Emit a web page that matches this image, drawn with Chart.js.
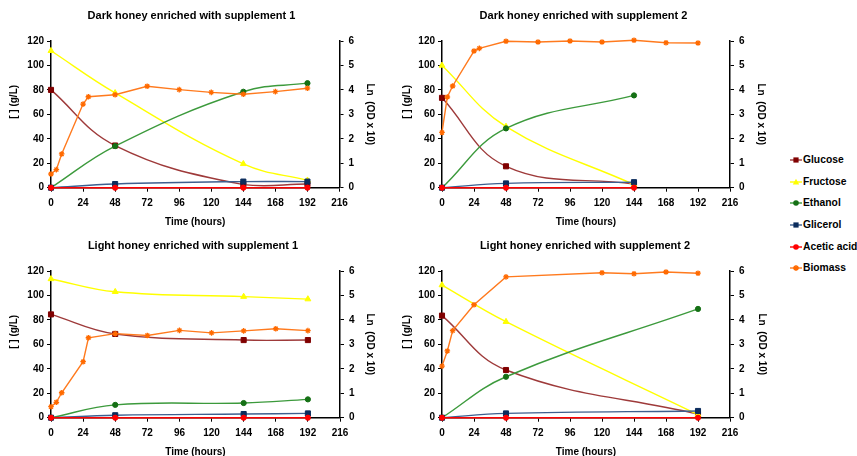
<!DOCTYPE html>
<html><head><meta charset="utf-8">
<script src="https://cdn.jsdelivr.net/npm/chart.js@4.4.1/dist/chart.umd.min.js"></script>
<style>
html,body{margin:0;padding:0;background:#fff;width:857px;height:456px;overflow:hidden;position:relative;font-family:"Liberation Sans",Arial,sans-serif;}
canvas{position:absolute;}
#legend{position:absolute;left:0;top:0;}
.item{position:absolute;left:788px;height:14px;white-space:nowrap;font-weight:bold;font-size:10.3px;line-height:14px;color:#000;}
.item svg{position:absolute;left:0;top:0;}
.item span{position:absolute;left:15px;top:0;}
</style></head><body>
<canvas id="c1" width="383" height="230" style="left:0px;top:0px"></canvas>
<canvas id="c2" width="367" height="230" style="left:400px;top:0px"></canvas>
<canvas id="c3" width="386" height="230" style="left:0px;top:230px"></canvas>
<canvas id="c4" width="370" height="230" style="left:400px;top:230px"></canvas>
<div id="legend"></div>
<script>
// ---- data ----
const seriesNames = ["Glucose","Fructose","Ethanol","Glicerol","Acetic acid","Biomass"];
const xTicksStep = 24;

// Dark honey enriched with supplement 1
const d1Time = [0,48,144,192];
const d1Glucose = [80,34.5,2.5,3];
const d1Fructose = [112,77.5,19.5,6];
const d1Ethanol = [0,34,78.5,85.5];
const d1Glicerol = [0,3,5,5];
const d1Acetic = [0,0,0,0];
const d1BioTime = [0,4,8,24,28,48,72,96,120,144,168,192];
const d1Biomass = [0.56,0.74,1.38,3.42,3.72,3.8,4.15,4.01,3.9,3.82,3.93,4.07];

// Dark honey enriched with supplement 2
const d2Time = [0,48,144];
const d2Glucose = [73.5,17.5,3];
const d2Fructose = [100,50,2.5];
const d2Ethanol = [0,48.5,75.5];
const d2Glicerol = [0,3.5,4.5];
const d2Acetic = [0,0,0];
const d2BioTime = [0,4,8,24,28,48,72,96,120,144,168,192];
const d2Biomass = [2.26,3.71,4.16,5.59,5.7,5.99,5.96,6.0,5.96,6.03,5.93,5.92];

// Light honey enriched with supplement 1
const l1Time = [0,48,144,192];
const l1Glucose = [84.5,68.5,63.5,63.5];
const l1Fructose = [113.5,103,99,97];
const l1Ethanol = [0,10.5,12,15];
const l1Glicerol = [0,2,3,3.5];
const l1Acetic = [0,0,0,0];
const l1BioTime = [0,4,8,24,28,48,72,96,120,144,168,192];
const l1Biomass = [0.45,0.63,1.02,2.29,3.27,3.44,3.36,3.57,3.47,3.55,3.64,3.56];

// Light honey enriched with supplement 2
const l2Time = [0,48,192];
const l2Glucose = [83.5,39,3];
const l2Fructose = [108.5,78.5,2.5];
const l2Ethanol = [0,33.5,89];
const l2Glicerol = [0,3.5,5.5];
const l2Acetic = [0,0,0];
const l2BioTime = [0,4,8,24,48,120,144,168,192];
const l2Biomass = [2.11,2.73,3.56,4.62,5.76,5.93,5.89,5.96,5.91];

// ---- styles ----
const styles = [
  {line:'#9E3A3A', mark:'#800000', shape:'rect', r:3.6, tension:0.4},
  {line:'#FFFF00', mark:'#FFFF00', shape:'triangle', r:3.4, tension:0.4},
  {line:'#3C9A3C', mark:'#157015', shape:'circle', r:2.6, tension:0.4},
  {line:'#3D5F8F', mark:'#0B2C5C', shape:'rect', r:3.6, tension:0.4},
  {line:'#FF0000', mark:'#FF0000', shape:'circle', r:2.6, tension:0.4},
  {line:'#FF7A1E', mark:'#FF6A00', shape:'star', r:2.8, tension:0}
];
const FONT = '"Liberation Sans", Arial, sans-serif';

function pts(t, v){ return t.map((x,i)=>({x:x, y:v[i]})); }

function makePanel(id, title, t, glu, fru, eth, gli, ace, bt, bio, g){
  const vals = [glu, fru, eth, gli, ace];
  const datasets = vals.map((v,i)=>({
    label: seriesNames[i], data: pts(t, v), yAxisID:'y', xAxisID:'x',
    borderColor: styles[i].line, backgroundColor: styles[i].mark,
    pointBackgroundColor: styles[i].mark, pointBorderColor: styles[i].mark,
    pointStyle: styles[i].shape, pointRadius: styles[i].r, pointBorderWidth: 1,
    borderWidth: 1.4, tension: styles[i].tension, clip: false, order: 10 - i
  }));
  datasets.push({
    label: seriesNames[5], data: pts(bt, bio), yAxisID:'y1', xAxisID:'x',
    borderColor: styles[5].line, backgroundColor: styles[5].mark,
    pointBackgroundColor: styles[5].mark, pointBorderColor: styles[5].mark,
    pointStyle: 'star', pointRadius: styles[5].r, pointBorderWidth: 1.3,
    borderWidth: 1.4, tension: 0, clip: false, order: 1
  });
  const tickFont = {family: FONT, size: 10, weight: 'bold'};
  const titleFont = {family: FONT, size: 10, weight: 'bold'};
  new Chart(document.getElementById(id), {
    type: 'line',
    data: {datasets},
    options: {
      responsive: false, animation: false,
      layout: {padding: 0},
      plugins: {
        legend: {display: false}, tooltip: {enabled: false},
        title: {display: true, text: title, color: '#000',
          font: {family: FONT, size: 11, weight: 'bold'},
          padding: {top: 9.4, bottom: 18.4}}
      },
      scales: {
        x: {type: 'linear', min: 0, max: 216, position: 'bottom',
          ticks: {stepSize: xTicksStep, color: '#000', font: tickFont, padding: 6, maxRotation: 0},
          grid: {drawOnChartArea: false, drawTicks: true, tickLength: 4, color: '#000', lineWidth: 1},
          border: {display: true, color: '#000', width: 1.5},
          title: {display: true, text: 'Time (hours)', color: '#000', font: titleFont, padding: {top: 0, bottom: 2}},
          afterFit: s => { s.height = 42.3; }
        },
        y: {type: 'linear', position: 'left', min: 0, max: 120,
          ticks: {stepSize: 20, color: '#000', font: tickFont, padding: 3},
          grid: {drawOnChartArea: false, drawTicks: true, tickLength: 4, color: '#000', lineWidth: 1},
          border: {display: true, color: '#000', width: 1.5},
          title: {display: true, text: '         [ ] (g/L)', color: '#000', font: titleFont, padding: {top: g.lt, bottom: 0}},
          afterFit: s => { s.width = g.lw; }
        },
        y1: {type: 'linear', position: 'right', min: 0, max: 6,
          ticks: {stepSize: 1, color: '#000', font: tickFont, padding: 5},
          grid: {drawOnChartArea: false, drawTicks: true, tickLength: 4, color: '#000', lineWidth: 1},
          border: {display: true, color: '#000', width: 1.5},
          title: {display: true, text: 'Ln  (OD x 10)', color: '#000', font: titleFont, padding: {top: g.rt, bottom: 0}},
          afterFit: s => { s.width = g.rw; }
        }
      }
    }
  });
}

makePanel('c1', 'Dark honey enriched with supplement 1', d1Time, d1Glucose, d1Fructose, d1Ethanol, d1Glicerol, d1Acetic, d1BioTime, d1Biomass, {lw:51, rw:43.5, lt:8, rt:7});
makePanel('c2', 'Dark honey enriched with supplement 2', d2Time, d2Glucose, d2Fructose, d2Ethanol, d2Glicerol, d2Acetic, d2BioTime, d2Biomass, {lw:42, rw:37, lt:1, rt:0});
makePanel('c3', 'Light honey enriched with supplement 1', l1Time, l1Glucose, l1Fructose, l1Ethanol, l1Glicerol, l1Acetic, l1BioTime, l1Biomass, {lw:51, rw:46, lt:8, rt:10});
makePanel('c4', 'Light honey enriched with supplement 2', l2Time, l2Glucose, l2Fructose, l2Ethanol, l2Glicerol, l2Acetic, l2BioTime, l2Biomass, {lw:42, rw:40, lt:1, rt:2.3});

// ---- legend ----
const legendY = [160, 182, 203, 224.5, 246.5, 268];
function markerSvg(i){
  const s = styles[i], c = s.mark, cx = 8, cy = 7;
  let m = '';
  if (s.shape === 'rect') m = `<rect x="${cx-2.6}" y="${cy-2.6}" width="5.2" height="5.2" fill="${c}"/>`;
  else if (s.shape === 'triangle') m = `<polygon points="${cx},${cy-3.2} ${cx+3.2},${cy+2.4} ${cx-3.2},${cy+2.4}" fill="${c}"/>`;
  else if (s.shape === 'circle') m = `<circle cx="${cx}" cy="${cy}" r="2.8" fill="${c}"/>`;
  else m = `<path d="M${cx-3} ${cy}H${cx+3}M${cx} ${cy-3}V${cy+3}M${cx-2.1} ${cy-2.1}L${cx+2.1} ${cy+2.1}M${cx-2.1} ${cy+2.1}L${cx+2.1} ${cy-2.1}" stroke="${c}" stroke-width="1.4"/>`;
  return `<svg width="16" height="14"><line x1="2" y1="${cy}" x2="14" y2="${cy}" stroke="${s.line}" stroke-width="1.4"/>${m}</svg>`;
}
const lg = document.getElementById('legend');
seriesNames.forEach((n,i)=>{
  const d = document.createElement('div');
  d.className = 'item';
  d.style.top = (legendY[i] - 7) + 'px';
  d.innerHTML = markerSvg(i) + '<span>' + n + '</span>';
  lg.appendChild(d);
});
</script>
</body></html>
